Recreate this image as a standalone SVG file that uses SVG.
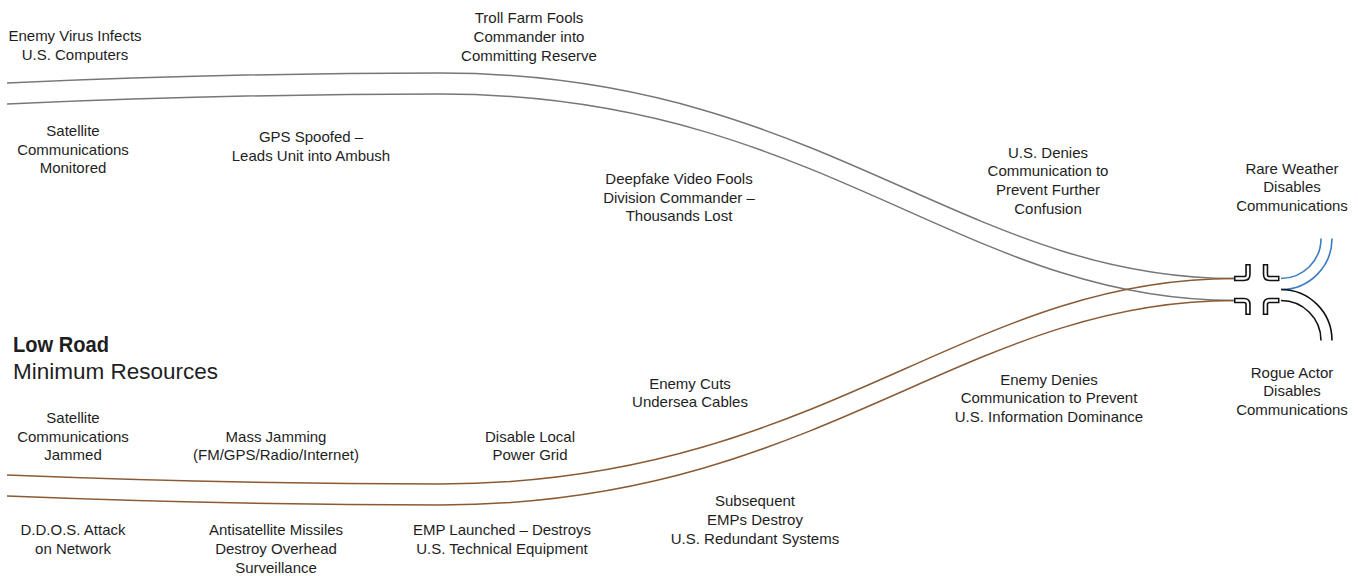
<svg xmlns="http://www.w3.org/2000/svg" width="1358" height="576" viewBox="0 0 1358 576">
<style>
text{font-family:"Liberation Sans",Arial,sans-serif;font-size:15px;fill:#1e1e1e;text-anchor:middle}
.gray{fill:none;stroke:#777;stroke-width:1.5}
.brown{fill:none;stroke:#8a5a34;stroke-width:1.5}
.blue{fill:none;stroke:#3a7cc4;stroke-width:1.6}
.blk{fill:none;stroke:#111;stroke-width:1.6}
.pipeo{fill:none;stroke:#111;stroke-width:5.5;stroke-linejoin:round}
.pipei{fill:none;stroke:#fff;stroke-width:2.3;stroke-linejoin:round}
.title{text-anchor:start;font-size:22.5px}
</style>
<rect width="1358" height="576" fill="#fff"/>
<g id="connectors">
<path class="gray" d="M7,83 Q230,73 440,73 C820,73 960,278.5 1234,278.5"/>
<path class="gray" d="M7,104 Q230,94 440,94 C820,94 960,300.5 1234,300.5"/>
<path class="brown" d="M7,475 Q230,484 440,484 C820,484 960,278.5 1234,278.5"/>
<path class="brown" d="M7,496 Q230,505 440,505 C820,505 960,300.5 1234,300.5"/>
<path class="blue" d="M1281,278.5 A40,40 0 0 0 1321,238.5"/>
<path class="blue" d="M1281,289.5 A51,51 0 0 0 1332,238.5"/>
<path class="blk" d="M1281,289.5 A51,51 0 0 1 1332,340.5"/>
<path class="blk" d="M1281,300.5 A40,40 0 0 1 1321,340.5"/>
</g>
<g id="junction">
<path class="pipeo" d="M1234,278.5 H1244 Q1248,278.5 1248,274.5 V264"/>
<path class="pipei" d="M1235.5,278.5 H1244 Q1248,278.5 1248,274.5 V265.5"/>
<path class="pipeo" d="M1265.5,264 V274.5 Q1265.5,278.5 1269.5,278.5 H1279.5"/>
<path class="pipei" d="M1265.5,265.5 V274.5 Q1265.5,278.5 1269.5,278.5 H1278"/>
<path class="pipeo" d="M1234,300.5 H1244 Q1248,300.5 1248,304.5 V315"/>
<path class="pipei" d="M1235.5,300.5 H1244 Q1248,300.5 1248,304.5 V313.5"/>
<path class="pipeo" d="M1279.5,300.5 H1269.5 Q1265.5,300.5 1265.5,304.5 V315"/>
<path class="pipei" d="M1278,300.5 H1269.5 Q1265.5,300.5 1265.5,304.5 V313.5"/>
</g>
<g id="title">
<text class="title" x="13" y="352" font-weight="bold" textLength="96" lengthAdjust="spacingAndGlyphs">Low Road</text>
<text class="title" x="13" y="379">Minimum Resources</text>
</g>
<g id="n-virus"><text x="75" y="41">Enemy Virus Infects</text><text x="75" y="60">U.S. Computers</text></g>
<g id="n-troll"><text x="529" y="23">Troll Farm Fools</text><text x="529" y="42">Commander into</text><text x="529" y="61">Committing Reserve</text></g>
<g id="n-satmon"><text x="73" y="136">Satellite</text><text x="73" y="155">Communications</text><text x="73" y="173">Monitored</text></g>
<g id="n-gps"><text x="311" y="142">GPS Spoofed –</text><text x="311" y="161">Leads Unit into Ambush</text></g>
<g id="n-deepfake"><text x="679" y="184">Deepfake Video Fools</text><text x="679" y="203">Division Commander –</text><text x="679" y="221">Thousands Lost</text></g>
<g id="n-usdenies"><text x="1048" y="158">U.S. Denies</text><text x="1048" y="176">Communication to</text><text x="1048" y="195">Prevent Further</text><text x="1048" y="214">Confusion</text></g>
<g id="n-weather"><text x="1292" y="174">Rare Weather</text><text x="1292" y="192">Disables</text><text x="1292" y="211">Communications</text></g>
<g id="n-rogue"><text x="1292" y="378">Rogue Actor</text><text x="1292" y="396">Disables</text><text x="1292" y="415">Communications</text></g>
<g id="n-enemydenies"><text x="1049" y="385">Enemy Denies</text><text x="1049" y="403">Communication to Prevent</text><text x="1049" y="422">U.S. Information Dominance</text></g>
<g id="n-cables"><text x="690" y="389">Enemy Cuts</text><text x="690" y="407">Undersea Cables</text></g>
<g id="n-grid"><text x="530" y="442">Disable Local</text><text x="530" y="460">Power Grid</text></g>
<g id="n-jamming"><text x="276" y="442">Mass Jamming</text><text x="276" y="460">(FM/GPS/Radio/Internet)</text></g>
<g id="n-satjam"><text x="73" y="423">Satellite</text><text x="73" y="442">Communications</text><text x="73" y="460">Jammed</text></g>
<g id="n-ddos"><text x="73" y="535">D.D.O.S. Attack</text><text x="73" y="554">on Network</text></g>
<g id="n-asat"><text x="276" y="535">Antisatellite Missiles</text><text x="276" y="554">Destroy Overhead</text><text x="276" y="573">Surveillance</text></g>
<g id="n-emp"><text x="502" y="535">EMP Launched – Destroys</text><text x="502" y="554">U.S. Technical Equipment</text></g>
<g id="n-emps"><text x="755" y="506">Subsequent</text><text x="755" y="525">EMPs Destroy</text><text x="755" y="544">U.S. Redundant Systems</text></g>
</svg>
